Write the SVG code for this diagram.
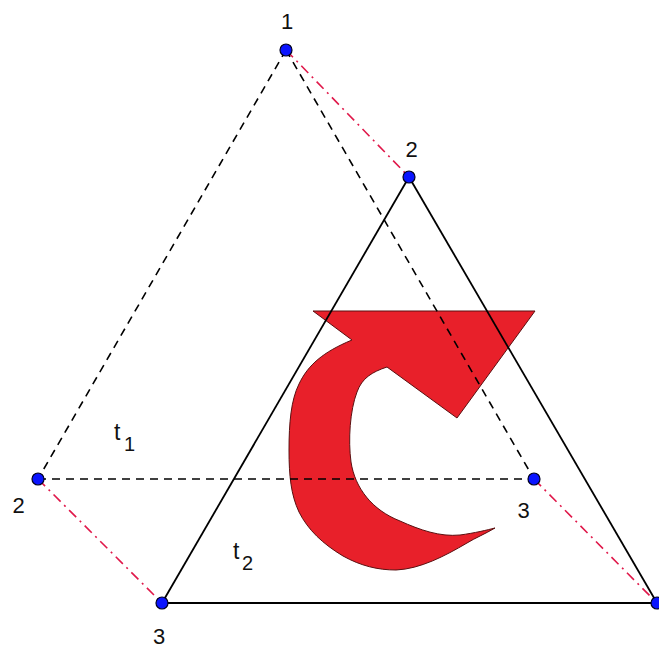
<svg xmlns="http://www.w3.org/2000/svg" width="659" height="648" viewBox="0 0 659 648">
<style>
.dash{stroke:#000;stroke-width:1.6;stroke-dasharray:8 6;fill:none}
.solid{stroke:#000;stroke-width:1.8;fill:none}
.dd{stroke:#e0184a;stroke-width:1.6;stroke-dasharray:10 5 2 5;fill:none}
.pt{fill:#0a14ff;stroke:#000022;stroke-width:1.2}
.lbl{font-family:"Liberation Sans",Arial,sans-serif;font-size:22px;fill:#111;text-anchor:middle}
.tl{font-family:"Liberation Sans",Arial,sans-serif;font-size:23px;fill:#111}
.sub{font-size:20px}
</style>
<rect width="659" height="648" fill="#fff"/>
<g id="arrow">
<path d="M313,311 L535,311 L457,418 L387,367 C372,372 362,378 357,392 C350,410 348,440 351,462 C355,488 372,510 400,521 C420,530 440,537 460,535 C475,533 487,530 495,528 C485,534 475,538 467,543 C445,556 420,569 396,570 C378,570 361,566 343,556 C323,544 308,530 299,512 C291,495 289,476 289,450 C289,423 291,400 299,384 C308,365 323,352 352,340 Z" fill="#e8202a" stroke="#5a0f10" stroke-width="1"/>
</g>
<g id="connectors">
<line class="dd" x1="286" y1="50" x2="409" y2="177"/>
<line class="dd" x1="38" y1="479" x2="162" y2="603"/>
<line class="dd" x1="534" y1="479" x2="657" y2="603"/>
<line class="dash" x1="286" y1="50" x2="38" y2="479"/>
<line class="dash" x1="286" y1="50" x2="534" y2="479"/>
<line class="dash" x1="38" y1="479" x2="534" y2="479"/>
<line class="solid" x1="409" y1="177" x2="162" y2="603"/>
<line class="solid" x1="409" y1="177" x2="657" y2="603"/>
<line class="solid" x1="162" y1="603" x2="657" y2="603"/>
</g>
<g id="p1"><circle class="pt" cx="286" cy="50" r="6"/><text class="lbl" x="287" y="29">1</text></g>
<g id="p2a"><circle class="pt" cx="38" cy="479" r="6"/><text class="lbl" x="18.5" y="513">2</text></g>
<g id="p3a"><circle class="pt" cx="534" cy="479" r="6"/><text class="lbl" x="523.5" y="518">3</text></g>
<g id="p2b"><circle class="pt" cx="409" cy="177" r="6"/><text class="lbl" x="411.5" y="157">2</text></g>
<g id="p3b"><circle class="pt" cx="162" cy="603" r="6"/><text class="lbl" x="159" y="644">3</text></g>
<g id="p4b"><circle class="pt" cx="657" cy="603" r="6"/></g>
<g id="t1"><text class="tl" x="114" y="440">t<tspan class="sub" x="124" y="451">1</tspan></text></g>
<g id="t2"><text class="tl" x="233" y="559">t<tspan class="sub" x="242" y="570">2</tspan></text></g>
</svg>
